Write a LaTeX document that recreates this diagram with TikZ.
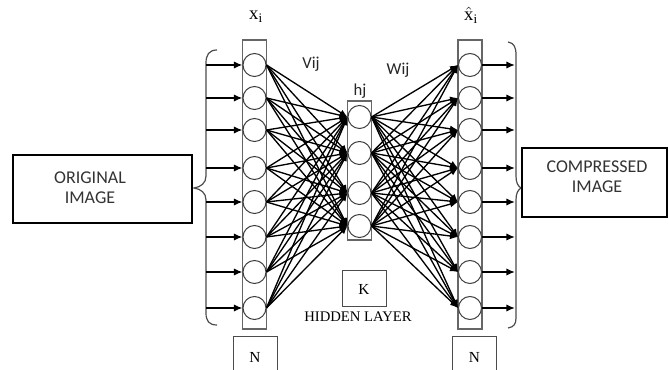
\documentclass[tikz,border=0pt]{standalone}
\usepackage{fontspec}
\setmainfont{Liberation Serif}
\newfontfamily\calib{Carlito}
\usepackage{tikz}
\usetikzlibrary{positioning,arrows.meta}
\tikzset{
  % --- neurons and layer columns ---------------------------------------------
  unit/.style={circle,draw=black!75,line width=0.75pt,minimum size=17.25pt,
               inner sep=0pt,fill=white},
  column/.style={rectangle,draw=black!60,line width=0.9pt,minimum width=18pt,
                 inner sep=0pt},
  % --- boxes and texts -------------------------------------------------------
  imgbox/.style={rectangle,draw=black,line width=1.5pt,inner sep=0pt},
  sizebox/.style={rectangle,draw=black!70,line width=0.75pt,minimum width=33pt,
                  inner sep=0pt,font=\fontsize{11.5}{13}\selectfont},
  imgtxt/.style={font=\calib\fontsize{13.5}{15}\selectfont,text=black!80,
                 align=center,inner sep=0pt},
  wlab/.style={font=\calib\fontsize{12.5}{14}\selectfont,text=black!85,
               inner sep=0pt},
  veclab/.style={font=\fontsize{14}{16}\selectfont,inner sep=0pt},
  % --- connectors ------------------------------------------------------------
  feed/.style={-{Latex[length=6.5pt,width=5.5pt]},line width=1.2pt},
  link/.style={-{Latex[length=6pt,width=5pt]},line width=1pt},
  brace/.style={draw=black!70,line width=0.9pt},
}

\begin{document}
\begin{tikzpicture}[x=0.75pt, y=-0.75pt]
  \clip (0,0) rectangle (669,370);

  % layer columns
  \node[column,minimum height=216.75pt] (xcol) at (254.5,184.5) {};
  \node[column,minimum height=104.25pt] (hcol) at (359.5,170.5) {};
  \node[column,minimum height=216.75pt] (ocol) at (470,184.5)   {};

  % input, hidden and output units
  \foreach \n/\y in {1/65,2/98,3/130,4/168,5/202,6/237,7/272,8/308} {
    \node[unit] (x\n) at (254.5,\y) {};
    \node[unit] (o\n) at (470,\y)   {};
  }
  \foreach \n/\y in {1/117,2/153,3/193,4/226}
    \node[unit] (h\n) at (359.5,\y) {};

  % weights V_ij and W_ij
  \foreach \i in {1,...,8}
    \foreach \j in {1,...,4} {
      \draw[link] (x\i.east) -- (h\j.west);
      \draw[link] (h\j.east) -- (o\i.west);
    }

  % braces
  \draw[brace] (217,50) .. controls (209,50) and (206,55) .. (206,63)
    -- (206,176) .. controls (206,183) and (201,187) .. (194,188)
    .. controls (201,189) and (206,193) .. (206,200)
    -- (206,313) .. controls (206,321) and (209,325) .. (217,325);
  \draw[brace] (508,42) .. controls (514,43) and (516,47) .. (516,55)
    -- (516,176) .. controls (516,183) and (518,186) .. (521,188)
    .. controls (518,190) and (516,193) .. (516,200)
    -- (516,318) .. controls (516,324) and (514,327) .. (508,328);

  % inputs and outputs
  \foreach \n/\y in {1/65,2/98,3/130,4/168,5/202,6/237,7/272,8/308} {
    \coordinate (in\n)  at (206,\y);
    \coordinate (out\n) at (515,\y);
    \draw[feed] (in\n) -- (x\n);
    \draw[feed] (o\n) -- (out\n);
  }

  % images
  \node[imgbox,minimum width=134.25pt,minimum height=51pt] (orig)
    at (102.5,189) {};
  \node[imgtxt] (origtxt) at (90,188) {ORIGINAL\\IMAGE};
  \node[imgbox,minimum width=108.75pt,minimum height=51.75pt] (comp)
    at (594.5,182.5) {};
  \node[imgtxt] (comptxt) at (597,177) {COMPRESSED\\IMAGE};

  % sizes
  \node[sizebox,minimum height=27pt] (ksize) at (364,289) {K};
  \node[font=\fontsize{11}{12}\selectfont,inner sep=0pt] (hidlab)
    at (358,317) {HIDDEN LAYER};
  \node[sizebox,minimum height=30pt] (nin)  at (255,357)   {N};
  \node[sizebox,minimum height=30pt] (nout) at (474.5,357) {N};

  % labels
  \node[veclab] (xlab) at (256,17) {$\mathrm{x}_\mathrm{i}$};
  \node[veclab] (olab) at (471,15) {$\hat{\mathrm{x}}_\mathrm{i}$};
  \node[wlab] (vlab) at (311,64) {Vij};
  \node[wlab] (wlab) at (398,70) {Wij};
  \node[wlab] (hlab) at (360,91) {hj};
\end{tikzpicture}
\end{document}
